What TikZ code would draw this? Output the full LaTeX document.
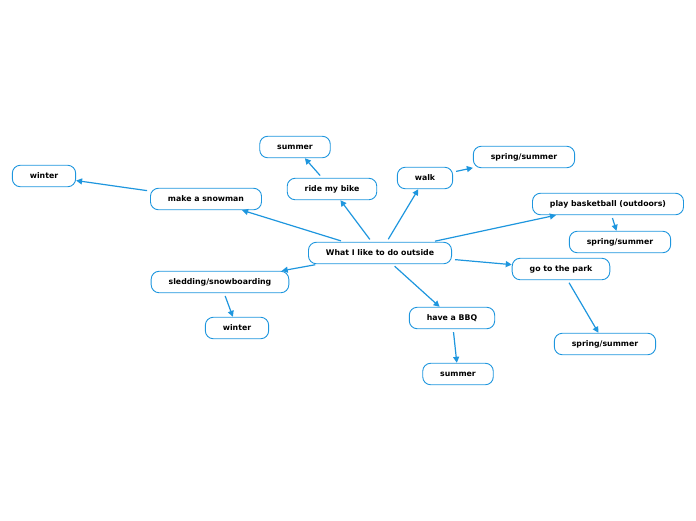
\documentclass[tikz,border=0pt]{standalone}
\usepackage{fontspec}
\setmainfont{DejaVu Sans}
\usetikzlibrary{arrows.meta}
\definecolor{mapblue}{RGB}{30,150,222}

\begin{document}
\begin{tikzpicture}[x=1pt, y=-1pt,
    topic/.style={draw=mapblue, line width=0.9pt, rounded corners=8pt, fill=white,
        minimum height=21.5pt, inner xsep=17.5pt, inner ysep=0pt,
        font=\fontsize{7.8}{9}\selectfont\bfseries},
    link/.style={draw=mapblue, line width=1.2pt, shorten <=3pt,
        -{Triangle[length=6pt, width=6pt]}}]
    \useasboundingbox (0,0) rectangle (696,520);

    % main idea
    \node[topic] (main) at (380,253) {What I like to do outside};

    % activities
    \node[topic] (snowman) at (206,199) {make a snowman};
    \node[topic] (bike) at (332,189) {ride my bike};
    \node[topic] (walk) at (425,178) {walk};
    \node[topic] (ball) at (608,204) {play basketball (outdoors)};
    \node[topic] (park) at (561,269) {go to the park};
    \node[topic] (bbq) at (452,318) {have a BBQ};
    \node[topic] (sled) at (220,282) {sledding/snowboarding};

    % seasons
    \node[topic] (snowmanwin) at (44,176) {winter};
    \node[topic] (bikesum) at (295,147) {summer};
    \node[topic] (walkss) at (524,157) {spring/summer};
    \node[topic] (ballss) at (620,242) {spring/summer};
    \node[topic] (parkss) at (605,344) {spring/summer};
    \node[topic] (bbqsum) at (458,374) {summer};
    \node[topic] (sledwin) at (237,328) {winter};

    \foreach \a/\b in {main/snowman, main/bike, main/walk, main/ball, main/park,
        main/bbq, main/sled, snowman/snowmanwin, bike/bikesum, walk/walkss,
        ball/ballss, park/parkss, bbq/bbqsum, sled/sledwin}
        \draw[link] (\a) -- (\b);
\end{tikzpicture}
\end{document}
